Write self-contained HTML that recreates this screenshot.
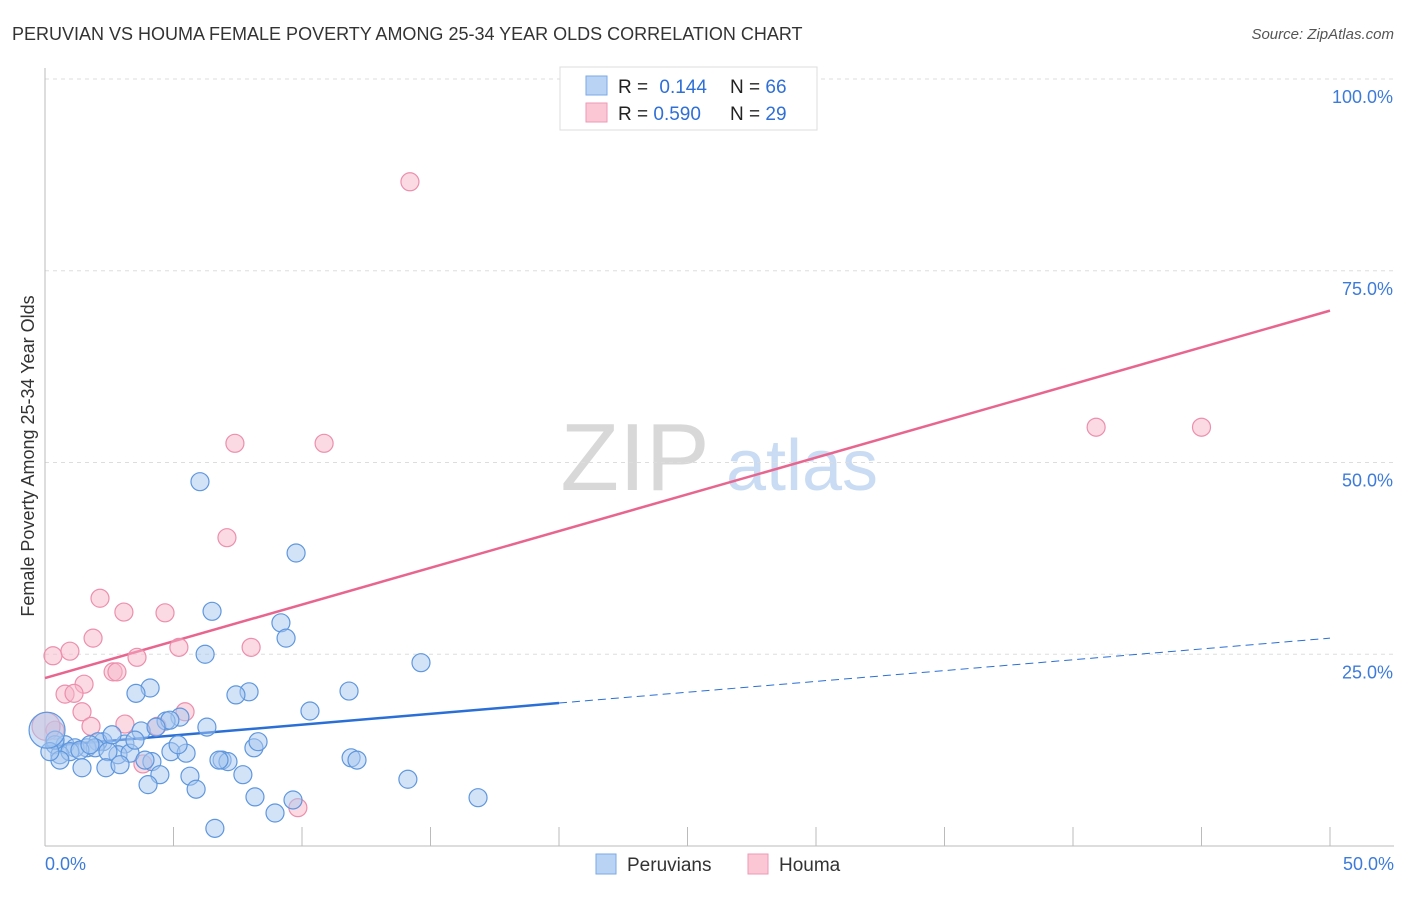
<!DOCTYPE html>
<html><head><meta charset="utf-8">
<style>
body{margin:0;background:#fff;font-family:"Liberation Sans",sans-serif;}
svg text{font-family:"Liberation Sans",sans-serif;}
</style></head>
<body>
<svg id="chart" width="1406" height="892" xmlns="http://www.w3.org/2000/svg">
<text x="12" y="40" font-size="18" fill="#333">PERUVIAN VS HOUMA FEMALE POVERTY AMONG 25-34 YEAR OLDS CORRELATION CHART</text>
<text x="1394" y="39" font-size="15" fill="#555" font-style="italic" text-anchor="end">Source: ZipAtlas.com</text>
<text transform="translate(34,456) rotate(-90)" font-size="18" fill="#333" text-anchor="middle">Female Poverty Among 25-34 Year Olds</text>
<g>
<text x="635" y="490" font-size="96" fill="#d8d8d8" font-family="Liberation Serif,serif" text-anchor="middle">ZIP</text>
<text x="802" y="490" font-size="72" fill="#c9dcf3" text-anchor="middle">atlas</text>
</g>
<g id="grid"></g>
<g id="axes"></g>
<g id="lines"></g>
<g id="points"></g>
<g>
<rect x="560" y="67" width="257" height="63" fill="#fff" stroke="#ddd"/>
<rect x="586" y="76" width="21" height="19" fill="#b9d3f5" stroke="#7aa9e6"/>
<rect x="586" y="103" width="21" height="19" fill="#fbc7d5" stroke="#ee9ab4"/>
<text x="618" y="93" font-size="19" fill="#222">R = <tspan fill="#2f6fd6" dx="6">0.144</tspan></text>
<text x="730" y="93" font-size="19" fill="#222">N = <tspan fill="#2f6fd6">66</tspan></text>
<text x="618" y="120" font-size="19" fill="#222">R = <tspan fill="#2f6fd6">0.590</tspan></text>
<text x="730" y="120" font-size="19" fill="#222">N = <tspan fill="#2f6fd6">29</tspan></text>
</g>
<g>
<rect x="596" y="854" width="20" height="20" fill="#b9d3f5" stroke="#7aa9e6"/>
<text x="627" y="871" font-size="19" fill="#333">Peruvians</text>
<rect x="748" y="854" width="20" height="20" fill="#fbc7d5" stroke="#ee9ab4"/>
<text x="779" y="871" font-size="19" fill="#333">Houma</text>
</g>
</svg>
<script>
const yTicks=[25,50,75,100];
const yTickLabels=["25.0%","50.0%","75.0%","100.0%"];
const xTicks=[0,5,10,15,20,25,30,35,40,45,50];
const xEndLabels=["0.0%","50.0%"];
const peruX=[6.03,9.77,6.50,9.18,9.38,6.23,14.63,4.09,3.54,7.94,7.43,11.83,10.31,5.25,4.71,4.86,6.30,3.74,4.32,2.26,3.11,2.06,1.63,0.39,0.78,1.17,1.95,2.84,3.31,4.90,5.49,8.13,4.16,6.89,7.12,6.77,11.91,12.14,0.58,0.97,1.36,2.45,0.58,1.44,2.37,2.92,3.89,4.47,5.64,7.70,4.01,5.88,14.12,8.17,9.65,8.95,6.61,16.85,0.39,2.61,1.75,0.19,3.50,5.18,8.29,0.08];
const peruY=[47.5,38.2,30.6,29.1,27.1,25.0,23.9,20.6,19.9,20.1,19.7,20.2,17.6,16.8,16.3,16.4,15.5,15.0,15.5,13.6,13.3,13.6,12.8,13.2,13.2,12.8,12.8,11.9,12.1,12.3,12.1,12.8,11.0,11.2,11.0,11.2,11.5,11.2,11.9,12.3,12.5,12.3,11.2,10.2,10.2,10.6,11.2,9.3,9.1,9.3,8.0,7.4,8.7,6.4,6.0,4.3,2.3,6.3,13.8,14.5,13.2,12.3,13.8,13.2,13.6,15.1];
const houmaX=[14.2,7.39,10.86,40.9,45.0,7.08,2.14,3.07,4.67,1.87,0.31,0.97,5.21,8.02,3.58,2.65,2.80,1.52,0.78,1.13,1.44,1.79,3.11,0.39,0.04,4.36,5.45,3.81,9.84];
const houmaY=[86.6,52.5,52.5,54.6,54.6,40.2,32.3,30.5,30.4,27.1,24.8,25.4,25.9,25.9,24.6,22.7,22.7,21.1,19.8,19.9,17.5,15.6,15.9,15.1,15.6,15.6,17.5,10.7,5.0];
const peruTrend=[13.0,27.1];   // y at x=0 and x=50
const peruSolidEnd=20;
const houmaTrend=[21.9,69.8];

const NS="http://www.w3.org/2000/svg";
const X0=45,X1=1330,Y0=846,Y100=79;
const sx=v=>X0+(X1-X0)*v/50;
const sy=v=>Y0-(Y0-Y100)*v/100;
function mk(tag,attrs,parent){const e=document.createElementNS(NS,tag);for(const k in attrs)e.setAttribute(k,attrs[k]);parent.appendChild(e);return e;}
const grid=document.getElementById('grid'),axes=document.getElementById('axes'),lines=document.getElementById('lines'),pts=document.getElementById('points');
yTicks.forEach((t,i)=>{
  const l=mk('line',{x1:X0,x2:1394,y1:sy(t),y2:sy(t),stroke:'#ddd','stroke-dasharray':'4,4'},grid);
  
  
  const tx=mk('text',{x:1393,y:sy(t)+24,'font-size':18,fill:'#3d7bd9','text-anchor':'end'},axes);
  tx.textContent=yTickLabels[i];
  
  
});
const ya=mk('line',{x1:X0,x2:X0,y1:68,y2:Y0,stroke:'#bbb'},axes);


const xa=mk('line',{x1:X0,x2:1394,y1:Y0,y2:Y0,stroke:'#bbb'},axes);


xTicks.forEach(t=>{
  const l=mk('line',{x1:sx(t),x2:sx(t),y1:Y0-19,y2:Y0,stroke:'#bbb'},axes);
  
  
});
const xl0=mk('text',{x:45,y:870,'font-size':18,fill:'#3d7bd9'},axes);xl0.textContent=xEndLabels[0];


const xl1=mk('text',{x:1394,y:870,'font-size':18,fill:'#3d7bd9','text-anchor':'end'},axes);xl1.textContent=xEndLabels[1];



function circ(x,y,r,fill,stroke,name){
  const c=mk('circle',{cx:sx(x),cy:sy(y),r:r,fill:fill,'fill-opacity':0.5,stroke:stroke,'stroke-width':1.2},pts);
  
  
}
houmaX.forEach((x,i)=>circ(x,houmaY[i],i===24?14:9,'#f7b6c9','#ec8fad','houma-point'));
peruX.forEach((x,i)=>circ(x,peruY[i],i===peruX.length-1?18:9,'#a8c8f0','#5f97de','peruvian-point'));

const pt=v=>peruTrend[0]+(peruTrend[1]-peruTrend[0])*v/50;
const ps=mk('line',{x1:sx(0),y1:sy(pt(0)),x2:sx(peruSolidEnd),y2:sy(pt(peruSolidEnd)),stroke:'#2a6fd6','stroke-width':2.5},lines);


const pd=mk('line',{x1:sx(peruSolidEnd),y1:sy(pt(peruSolidEnd)),x2:sx(50),y2:sy(pt(50)),stroke:'#2a6fd6','stroke-width':1,'stroke-dasharray':'8,5'},lines);


const hl=mk('line',{x1:sx(0),y1:sy(houmaTrend[0]),x2:sx(50),y2:sy(houmaTrend[1]),stroke:'#e8658f','stroke-width':2.5},lines);


</script>
</body></html>
